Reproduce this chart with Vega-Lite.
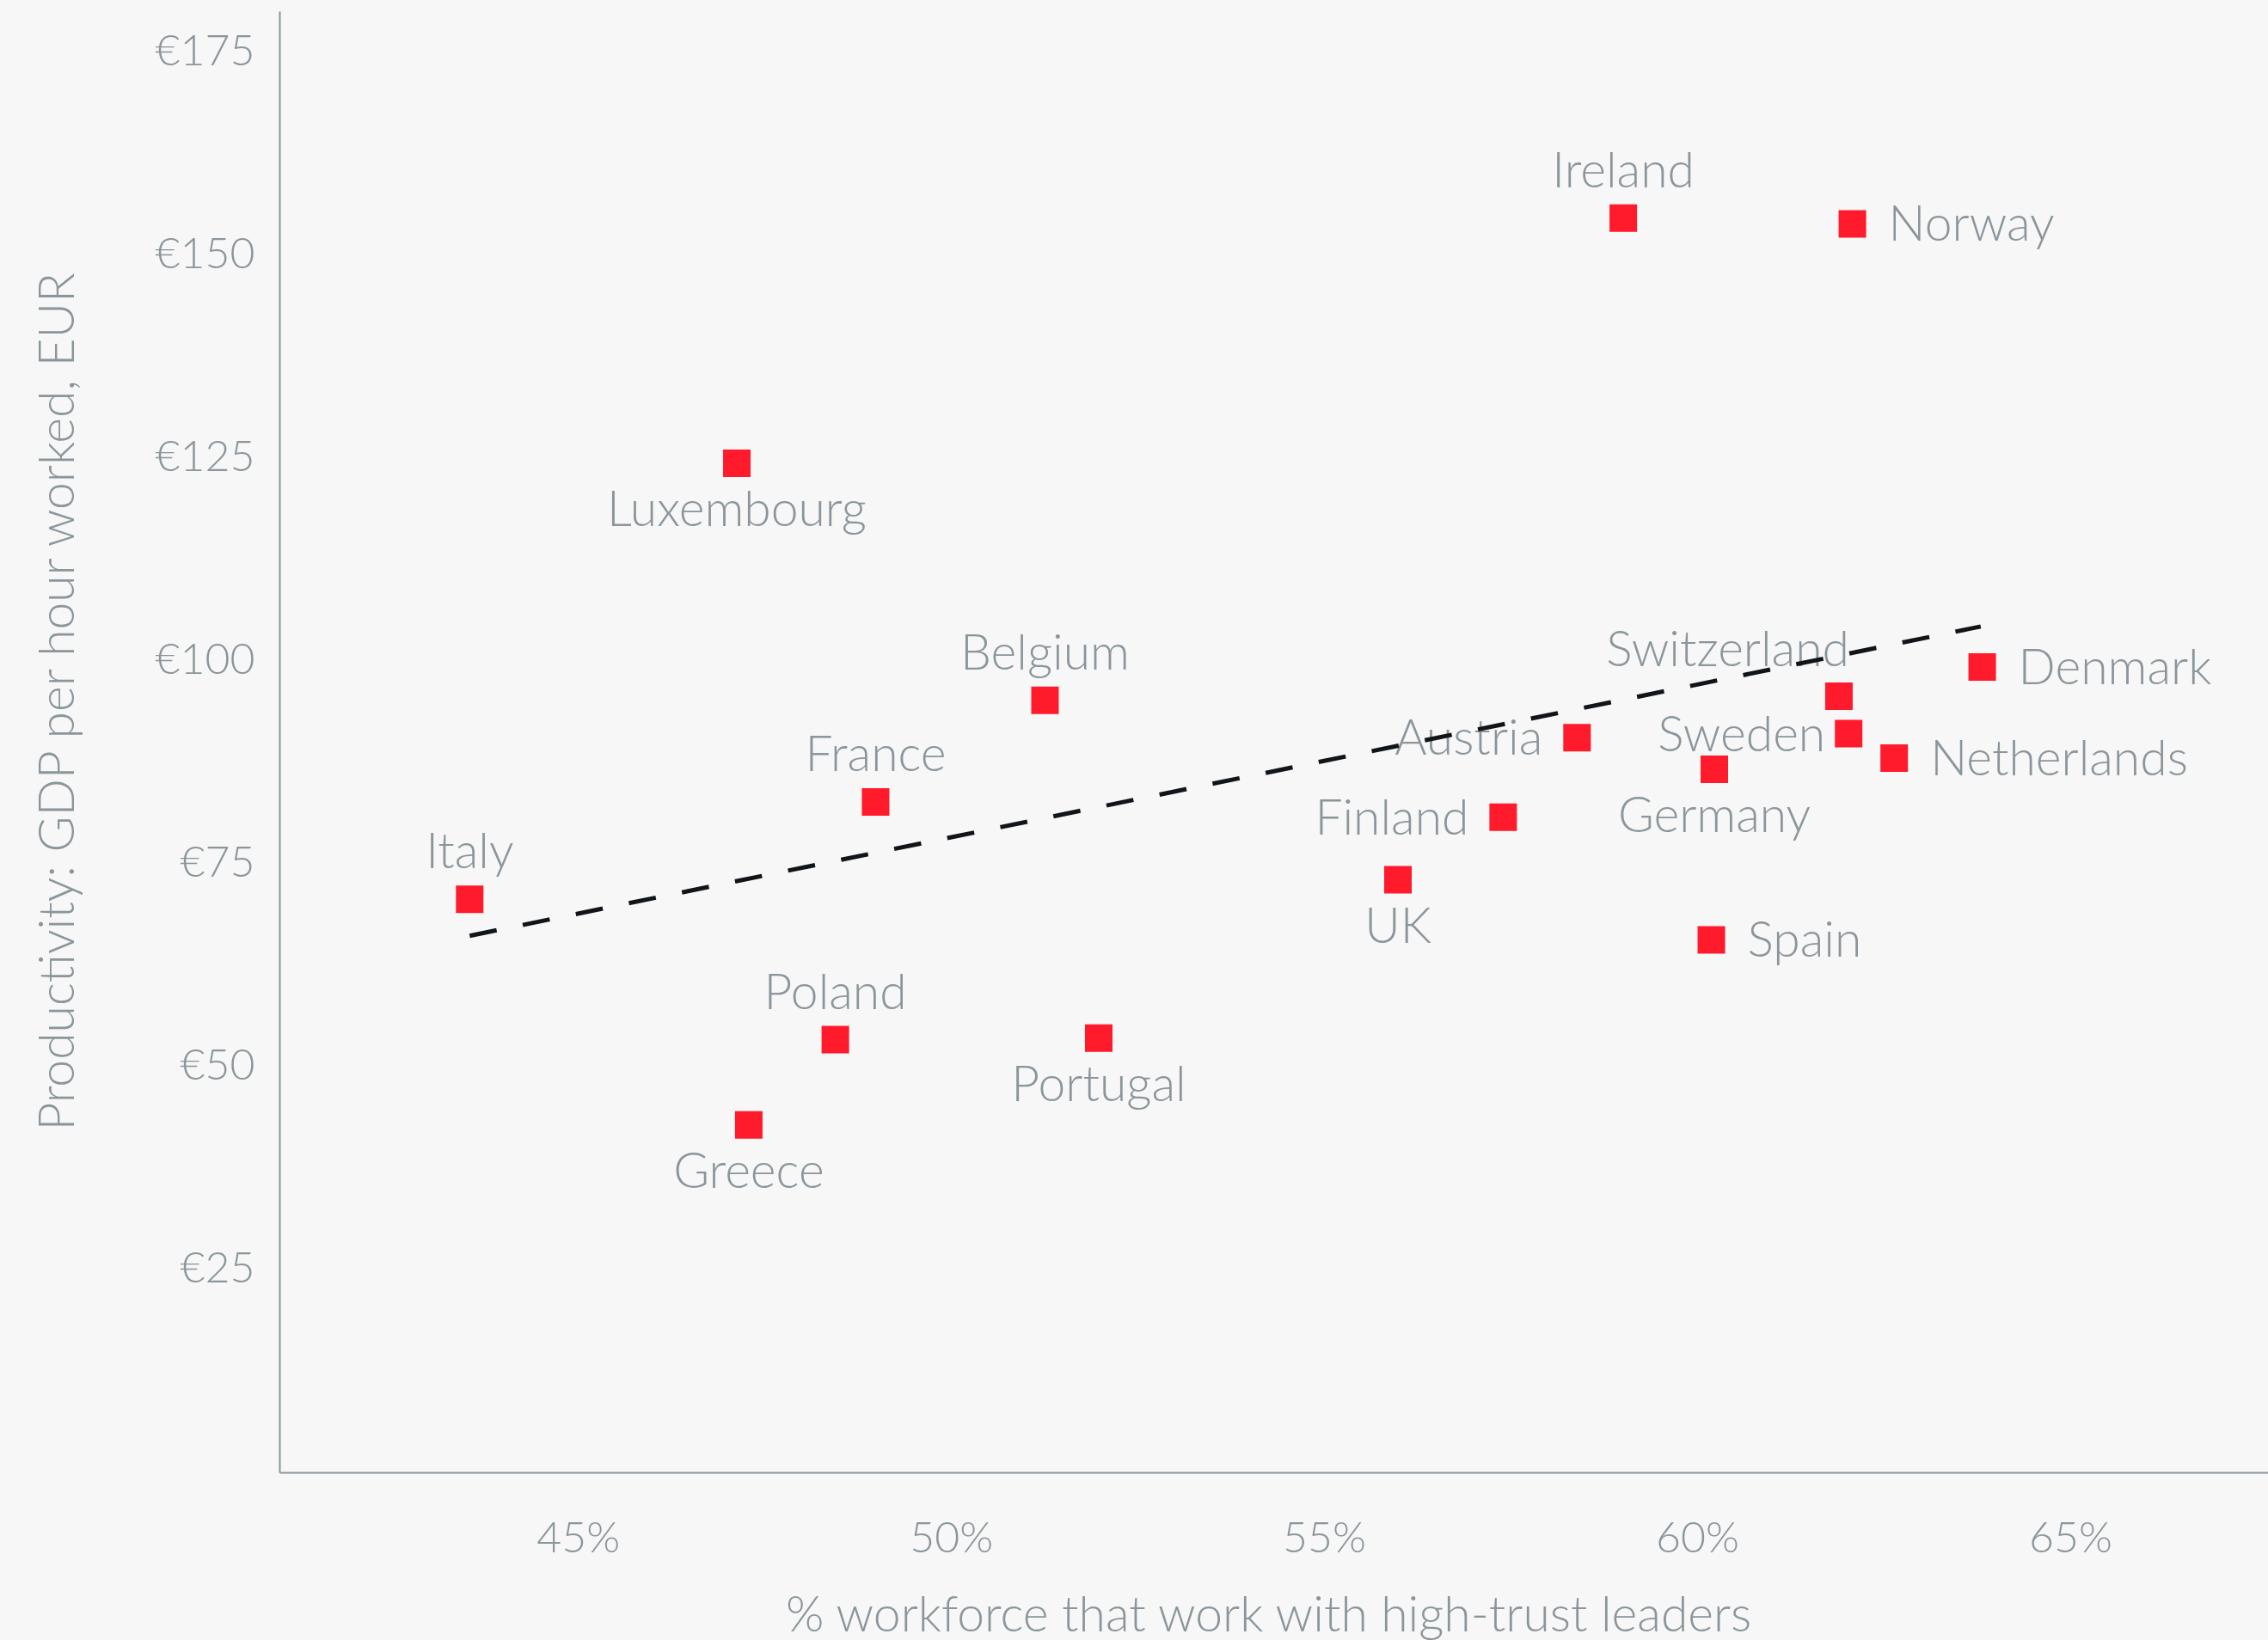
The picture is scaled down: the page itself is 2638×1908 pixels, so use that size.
{
  "$schema": "https://vega.github.io/schema/vega-lite/v6.json",
  "autosize": {"type": "none"},
  "padding": {"left": 325, "top": 13, "right": 0, "bottom": 195},
  "width": 2313,
  "height": 1700,
  "background": "#f6f7f6",
  "config": {
    "view": {"stroke": null},
    "font": "Lato",
    "axis": {
      "domainColor": "#8a959c",
      "domainWidth": 2,
      "ticks": false,
      "tickSize": 0,
      "grid": false,
      "labelFont": "Lato",
      "labelFontSize": 50,
      "labelFontWeight": 300,
      "labelColor": "#8a959c",
      "labelFlush": false,
      "labelOverlap": false,
      "titleFont": "Lato",
      "titleFontSize": 57,
      "titleFontWeight": 300,
      "titleColor": "#8a959c"
    }
  },
  "datasets": {
    "countries": [
      {"country": "Ireland", "trust": 59.01, "productivity": 154.5},
      {"country": "Norway", "trust": 62.08, "productivity": 153.8},
      {"country": "Luxembourg", "trust": 47.13, "productivity": 124.3},
      {"country": "Belgium", "trust": 51.26, "productivity": 95.1},
      {"country": "France", "trust": 48.99, "productivity": 82.6},
      {"country": "Italy", "trust": 43.55, "productivity": 70.6},
      {"country": "Poland", "trust": 48.45, "productivity": 53.3},
      {"country": "Greece", "trust": 47.29, "productivity": 42.8},
      {"country": "Portugal", "trust": 51.98, "productivity": 53.5},
      {"country": "UK", "trust": 55.99, "productivity": 73.0},
      {"country": "Finland", "trust": 57.40, "productivity": 80.7},
      {"country": "Austria", "trust": 58.39, "productivity": 90.5},
      {"country": "Germany", "trust": 60.23, "productivity": 86.6},
      {"country": "Spain", "trust": 60.19, "productivity": 65.6},
      {"country": "Switzerland", "trust": 61.90, "productivity": 95.6},
      {"country": "Sweden", "trust": 62.03, "productivity": 91.0},
      {"country": "Netherlands", "trust": 62.64, "productivity": 88.0},
      {"country": "Denmark", "trust": 63.82, "productivity": 99.2}
    ],
    "trend": [
      {"trust": 43.55, "productivity": 66.1},
      {"trust": 63.80, "productivity": 104.2}
    ]
  },
  "encoding": {
    "x": {
      "field": "trust",
      "type": "quantitative",
      "scale": {"domain": [41, 67.65], "nice": false, "zero": false},
      "axis": {
        "values": [45, 50, 55, 60, 65],
        "labelExpr": "datum.value + '%'",
        "labelPadding": 52,
        "title": "% workforce that work with high-trust leaders",
        "titleX": 1150,
        "titleY": 184,
        "titleAlign": "center",
        "titleBaseline": "alphabetic"
      }
    },
    "y": {
      "field": "productivity",
      "type": "quantitative",
      "scale": {"domain": [0, 180], "nice": false, "zero": true},
      "axis": {
        "values": [25, 50, 75, 100, 125, 150, 175],
        "labelExpr": "'€' + datum.value",
        "labelPadding": 29,
        "title": "Productivity: GDP per hour worked, EUR",
        "titleAngle": -90,
        "titleX": -240,
        "titleY": 803,
        "titleAlign": "center",
        "titleBaseline": "alphabetic"
      }
    }
  },
  "layer": [
    {
      "data": {"name": "countries"},
      "transform": [{"filter": {"field": "country", "oneOf": ["Ireland", "Belgium", "France", "Italy", "Poland"]}}],
      "mark": {"type": "text", "fontSize": 57, "fontWeight": 300, "color": "#8a959c", "align": "center", "baseline": "alphabetic", "dy": -36},
      "encoding": {"text": {"field": "country"}}
    },
    {
      "data": {"name": "countries"},
      "transform": [{"filter": {"field": "country", "oneOf": ["Luxembourg", "Greece", "Portugal", "UK", "Germany"]}}],
      "mark": {"type": "text", "fontSize": 57, "fontWeight": 300, "color": "#8a959c", "align": "center", "baseline": "alphabetic", "dy": 73},
      "encoding": {"text": {"field": "country"}}
    },
    {
      "data": {"name": "countries"},
      "transform": [{"filter": {"field": "country", "oneOf": ["Norway", "Spain", "Denmark", "Netherlands"]}}],
      "mark": {"type": "text", "fontSize": 57, "fontWeight": 300, "color": "#8a959c", "align": "left", "baseline": "alphabetic", "dx": 42, "dy": 20},
      "encoding": {"text": {"field": "country"}}
    },
    {
      "data": {"name": "countries"},
      "transform": [{"filter": {"field": "country", "oneOf": ["Finland", "Austria"]}}],
      "mark": {"type": "text", "fontSize": 57, "fontWeight": 300, "color": "#8a959c", "align": "right", "baseline": "alphabetic", "dx": -40, "dy": 20},
      "encoding": {"text": {"field": "country"}}
    },
    {
      "data": {"name": "countries"},
      "transform": [{"filter": {"field": "country", "oneOf": ["Sweden"]}}],
      "mark": {"type": "text", "fontSize": 57, "fontWeight": 300, "color": "#8a959c", "align": "right", "baseline": "alphabetic", "dx": -27, "dy": 20},
      "encoding": {"text": {"field": "country"}}
    },
    {
      "data": {"name": "countries"},
      "transform": [{"filter": {"field": "country", "oneOf": ["Switzerland"]}}],
      "mark": {"type": "text", "fontSize": 57, "fontWeight": 300, "color": "#8a959c", "align": "right", "baseline": "alphabetic", "dx": 12, "dy": -35},
      "encoding": {"text": {"field": "country"}}
    },
    {
      "data": {"name": "countries"},
      "mark": {"type": "point", "shape": "square", "filled": true, "size": 1024, "color": "#ff1a2c", "opacity": 1}
    },
    {
      "data": {"name": "trend"},
      "mark": {"type": "line", "color": "#111418", "strokeWidth": 5, "strokeDash": [32, 31]}
    }
  ]
}
